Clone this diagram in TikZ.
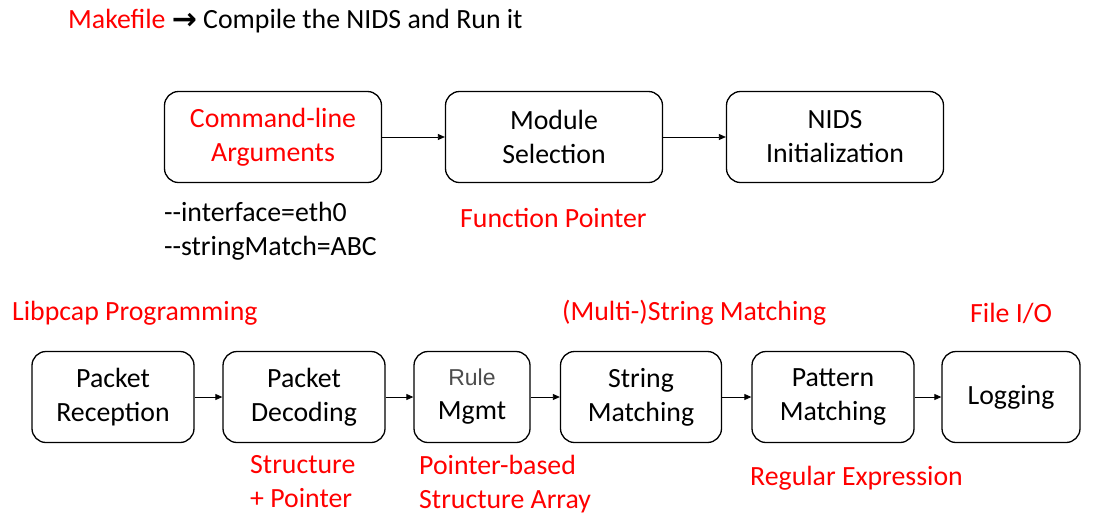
\documentclass[tikz,border=0pt]{standalone}
\usepackage{fontspec}
\setmainfont{Carlito}
\newfontfamily\arrowfont{DejaVu Sans}
\newfontfamily\rulefont{Liberation Sans}
\usetikzlibrary{arrows.meta,positioning}

\begin{document}
\begin{tikzpicture}[x=1pt,y=-1pt,font=\fontsize{27.8}{34}\selectfont,
  box/.style={draw, rounded corners=14pt, line width=1.3pt, align=center, inner sep=0pt, minimum height=91pt},
  note/.style={text=red, align=left, inner sep=0pt, anchor=west},
  plain/.style={align=left, inner sep=0pt, anchor=west},
  link/.style={-{Triangle[length=7pt,width=6pt]}, line width=0.8pt},
]
\useasboundingbox (0,0) rectangle (1098,528);

\node[plain] (make) at (68,21) {\textcolor{red}{Makefile} {\arrowfont\bfseries\fontsize{30}{34}\selectfont\raisebox{-1pt}{→}} Compile the NIDS and Run it};

\node[box, minimum width=217pt] (cmdline) at (273,137) {\textcolor{red}{Command-line}\\\textcolor{red}{Arguments}};
\node[box, minimum width=217pt] (modsel) at (554,137) {Module\\Selection};
\node[box, minimum width=217pt] (init) at (835,137) {NIDS\\Initialization};

\node[plain, below right=19pt and 0pt of cmdline.south west] (args) {-{}-interface=eth0\\-{}-stringMatch=ABC};
\node[note] (funcptr) at (460,218) {Function Pointer};

\node[note] (libpcap) at (12,313) {Libpcap Programming};
\node[note] (multistr) at (562,313) {(Multi-)String Matching};
\node[note] (fileio) at (970,313) {File I/O};

\node[box, minimum width=162pt] (recv) at (113,397) {Packet\\Reception};
\node[box, minimum width=162pt] (decode) at (304,397) {Packet\\Decoding};
\node[box, minimum width=116pt] (rule) at (472,397) {{\rulefont\color{black!70}\fontsize{23}{34}\selectfont Rule}\\Mgmt};
\node[box, minimum width=161pt] (strmatch) at (641,397) {String\\Matching};
\node[box, minimum width=162pt] (patmatch) at (833,397) {Pattern\\Matching};
\node[box, minimum width=138pt] (logging) at (1011,397) {Logging};

\node[note, anchor=north west] (structptr) at (250,455) {Structure\\+ Pointer};
\node[note, anchor=north west] (ptrarray) at (419,455) {Pointer-based\\Structure Array};
\node[note] (regex) at (750,478) {Regular Expression};

\draw[link] (cmdline) -- (modsel);
\draw[link] (modsel) -- (init);
\draw[link] (recv) -- (decode);
\draw[link] (decode) -- (rule);
\draw[link] (rule) -- (strmatch);
\draw[link] (strmatch) -- (patmatch);
\draw[link] (patmatch) -- (logging);

\end{tikzpicture}
\end{document}
